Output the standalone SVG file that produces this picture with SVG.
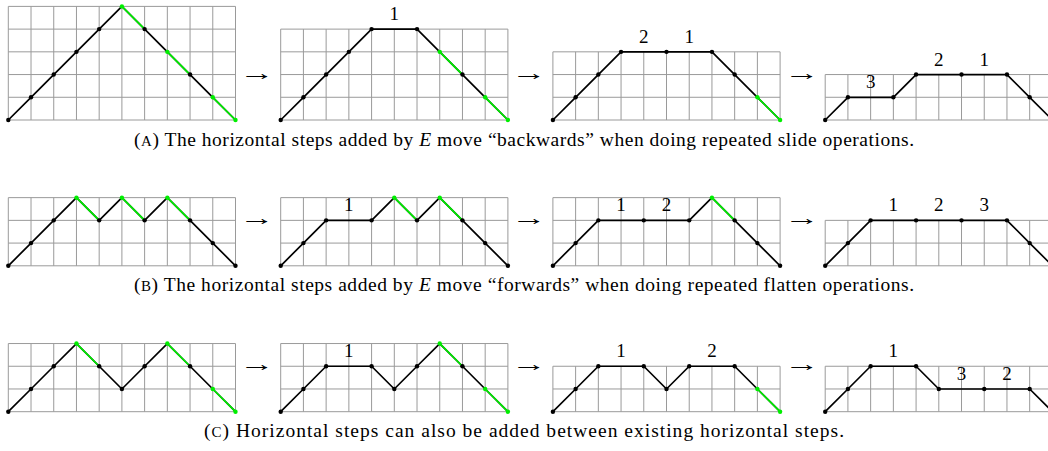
<svg xmlns="http://www.w3.org/2000/svg" xmlns:xlink="http://www.w3.org/1999/xlink" width="1048" height="451" viewBox="0 0 1048 451">
<style>
.grid{fill:none;stroke:#9a9a9a;stroke-width:1}
.pb{fill:none;stroke:#000;stroke-width:1.7;stroke-linejoin:round;stroke-linecap:round}
.pg{fill:none;stroke:#00ee00;stroke-width:1.7;stroke-linecap:round}
.db{fill:#000}
.dg{fill:#00ee00}
.lbl{font-family:"Liberation Serif","Times New Roman",serif;font-size:19px;text-anchor:middle;fill:#000}
.arr{font-family:"Liberation Serif","DejaVu Serif",serif;font-size:22px;text-anchor:middle;fill:#000}
.cap{font-family:"Liberation Serif","Times New Roman",serif;font-size:19.5px;text-anchor:middle;fill:#000}
.sc{font-size:15px}
</style>
<defs>
<path id="g5" class="grid" d="M0,0V-113.6M22.72,0V-113.6M45.44,0V-113.6M68.16,0V-113.6M90.88,0V-113.6M113.6,0V-113.6M136.32,0V-113.6M159.04,0V-113.6M181.76,0V-113.6M204.48,0V-113.6M227.2,0V-113.6M0,0H227.2M0,-22.72H227.2M0,-45.44H227.2M0,-68.16H227.2M0,-90.88H227.2M0,-113.6H227.2"/>
<path id="g4" class="grid" d="M0,0V-90.88M22.72,0V-90.88M45.44,0V-90.88M68.16,0V-90.88M90.88,0V-90.88M113.6,0V-90.88M136.32,0V-90.88M159.04,0V-90.88M181.76,0V-90.88M204.48,0V-90.88M227.2,0V-90.88M0,0H227.2M0,-22.72H227.2M0,-45.44H227.2M0,-68.16H227.2M0,-90.88H227.2"/>
<path id="g3" class="grid" d="M0,0V-68.16M22.72,0V-68.16M45.44,0V-68.16M68.16,0V-68.16M90.88,0V-68.16M113.6,0V-68.16M136.32,0V-68.16M159.04,0V-68.16M181.76,0V-68.16M204.48,0V-68.16M227.2,0V-68.16M0,0H227.2M0,-22.72H227.2M0,-45.44H227.2M0,-68.16H227.2"/>
<path id="g2" class="grid" d="M0,0V-45.44M22.72,0V-45.44M45.44,0V-45.44M68.16,0V-45.44M90.88,0V-45.44M113.6,0V-45.44M136.32,0V-45.44M159.04,0V-45.44M181.76,0V-45.44M204.48,0V-45.44M227.2,0V-45.44M0,0H227.2M0,-22.72H227.2M0,-45.44H227.2"/>
</defs>

<!-- Row A -->
<g id="a1" transform="translate(8.3,120)">
<use href="#g5"/>
<polyline class="pb" points="0,0 22.72,-22.72 45.44,-45.44 68.16,-68.16 90.88,-90.88 113.6,-113.6 136.32,-90.88 159.04,-68.16 181.76,-45.44 204.48,-22.72 227.2,0"/>
<path class="pg" d="M113.6,-113.6L136.32,-90.88M159.04,-68.16L181.76,-45.44M204.48,-22.72L227.2,0"/>
<g class="db"><circle cx="0" cy="0" r="2.2"/><circle cx="22.72" cy="-22.72" r="2.2"/><circle cx="45.44" cy="-45.44" r="2.2"/><circle cx="68.16" cy="-68.16" r="2.2"/><circle cx="90.88" cy="-90.88" r="2.2"/><circle cx="136.32" cy="-90.88" r="2.2"/><circle cx="181.76" cy="-45.44" r="2.2"/></g>
<g class="dg"><circle cx="113.6" cy="-113.6" r="2.2"/><circle cx="159.04" cy="-68.16" r="2.2"/><circle cx="204.48" cy="-22.72" r="2.2"/><circle cx="227.2" cy="0" r="2.2"/></g>
</g>
<g id="a2" transform="translate(280.7,120)">
<use href="#g4"/>
<polyline class="pb" points="0,0 22.72,-22.72 45.44,-45.44 68.16,-68.16 90.88,-90.88 136.32,-90.88 159.04,-68.16 181.76,-45.44 204.48,-22.72 227.2,0"/>
<path class="pg" d="M159.04,-68.16L181.76,-45.44M204.48,-22.72L227.2,0"/>
<g class="db"><circle cx="0" cy="0" r="2.2"/><circle cx="22.72" cy="-22.72" r="2.2"/><circle cx="45.44" cy="-45.44" r="2.2"/><circle cx="68.16" cy="-68.16" r="2.2"/><circle cx="90.88" cy="-90.88" r="2.2"/><circle cx="136.32" cy="-90.88" r="2.2"/><circle cx="181.76" cy="-45.44" r="2.2"/></g>
<g class="dg"><circle cx="159.04" cy="-68.16" r="2.2"/><circle cx="204.48" cy="-22.72" r="2.2"/><circle cx="227.2" cy="0" r="2.2"/></g>
<text class="lbl" x="113.6" y="-99.9">1</text>
</g>
<g id="a3" transform="translate(552.9,120)">
<use href="#g3"/>
<polyline class="pb" points="0,0 22.72,-22.72 45.44,-45.44 68.16,-68.16 113.6,-68.16 159.04,-68.16 181.76,-45.44 204.48,-22.72 227.2,0"/>
<path class="pg" d="M204.48,-22.72L227.2,0"/>
<g class="db"><circle cx="0" cy="0" r="2.2"/><circle cx="22.72" cy="-22.72" r="2.2"/><circle cx="45.44" cy="-45.44" r="2.2"/><circle cx="68.16" cy="-68.16" r="2.2"/><circle cx="113.6" cy="-68.16" r="2.2"/><circle cx="159.04" cy="-68.16" r="2.2"/><circle cx="181.76" cy="-45.44" r="2.2"/></g>
<g class="dg"><circle cx="204.48" cy="-22.72" r="2.2"/><circle cx="227.2" cy="0" r="2.2"/></g>
<text class="lbl" x="90.88" y="-77.2">2</text>
<text class="lbl" x="136.32" y="-77.2">1</text>
</g>
<g id="a4" transform="translate(825.2,120)">
<use href="#g2"/>
<polyline class="pb" points="0,0 22.72,-22.72 68.16,-22.72 90.88,-45.44 136.32,-45.44 181.76,-45.44 204.48,-22.72 227.2,0"/>
<g class="db"><circle cx="0" cy="0" r="2.2"/><circle cx="22.72" cy="-22.72" r="2.2"/><circle cx="68.16" cy="-22.72" r="2.2"/><circle cx="90.88" cy="-45.44" r="2.2"/><circle cx="136.32" cy="-45.44" r="2.2"/><circle cx="181.76" cy="-45.44" r="2.2"/><circle cx="204.48" cy="-22.72" r="2.2"/><circle cx="227.2" cy="0" r="2.2"/></g>
<text class="lbl" x="45.44" y="-31.7">3</text>
<text class="lbl" x="113.6" y="-54.4">2</text>
<text class="lbl" x="159.04" y="-54.4">1</text>
</g>

<!-- Row B -->
<g id="b1" transform="translate(8.3,265.8)">
<use href="#g3"/>
<polyline class="pb" points="0,0 22.72,-22.72 45.44,-45.44 68.16,-68.16 90.88,-45.44 113.6,-68.16 136.32,-45.44 159.04,-68.16 181.76,-45.44 204.48,-22.72 227.2,0"/>
<path class="pg" d="M68.16,-68.16L90.88,-45.44M113.6,-68.16L136.32,-45.44M159.04,-68.16L181.76,-45.44"/>
<g class="db"><circle cx="0" cy="0" r="2.2"/><circle cx="22.72" cy="-22.72" r="2.2"/><circle cx="45.44" cy="-45.44" r="2.2"/><circle cx="90.88" cy="-45.44" r="2.2"/><circle cx="136.32" cy="-45.44" r="2.2"/><circle cx="181.76" cy="-45.44" r="2.2"/><circle cx="204.48" cy="-22.72" r="2.2"/><circle cx="227.2" cy="0" r="2.2"/></g>
<g class="dg"><circle cx="68.16" cy="-68.16" r="2.2"/><circle cx="113.6" cy="-68.16" r="2.2"/><circle cx="159.04" cy="-68.16" r="2.2"/></g>
</g>
<g id="b2" transform="translate(280.7,265.8)">
<use href="#g3"/>
<polyline class="pb" points="0,0 22.72,-22.72 45.44,-45.44 90.88,-45.44 113.6,-68.16 136.32,-45.44 159.04,-68.16 181.76,-45.44 204.48,-22.72 227.2,0"/>
<path class="pg" d="M113.6,-68.16L136.32,-45.44M159.04,-68.16L181.76,-45.44"/>
<g class="db"><circle cx="0" cy="0" r="2.2"/><circle cx="22.72" cy="-22.72" r="2.2"/><circle cx="45.44" cy="-45.44" r="2.2"/><circle cx="90.88" cy="-45.44" r="2.2"/><circle cx="136.32" cy="-45.44" r="2.2"/><circle cx="181.76" cy="-45.44" r="2.2"/><circle cx="204.48" cy="-22.72" r="2.2"/><circle cx="227.2" cy="0" r="2.2"/></g>
<g class="dg"><circle cx="113.6" cy="-68.16" r="2.2"/><circle cx="159.04" cy="-68.16" r="2.2"/></g>
<text class="lbl" x="68.16" y="-54.4">1</text>
</g>
<g id="b3" transform="translate(552.9,265.8)">
<use href="#g3"/>
<polyline class="pb" points="0,0 22.72,-22.72 45.44,-45.44 90.88,-45.44 136.32,-45.44 159.04,-68.16 181.76,-45.44 204.48,-22.72 227.2,0"/>
<path class="pg" d="M159.04,-68.16L181.76,-45.44"/>
<g class="db"><circle cx="0" cy="0" r="2.2"/><circle cx="22.72" cy="-22.72" r="2.2"/><circle cx="45.44" cy="-45.44" r="2.2"/><circle cx="90.88" cy="-45.44" r="2.2"/><circle cx="136.32" cy="-45.44" r="2.2"/><circle cx="181.76" cy="-45.44" r="2.2"/><circle cx="204.48" cy="-22.72" r="2.2"/><circle cx="227.2" cy="0" r="2.2"/></g>
<g class="dg"><circle cx="159.04" cy="-68.16" r="2.2"/></g>
<text class="lbl" x="68.16" y="-54.4">1</text>
<text class="lbl" x="113.6" y="-54.4">2</text>
</g>
<g id="b4" transform="translate(825.2,265.8)">
<use href="#g2"/>
<polyline class="pb" points="0,0 22.72,-22.72 45.44,-45.44 90.88,-45.44 136.32,-45.44 181.76,-45.44 204.48,-22.72 227.2,0"/>
<g class="db"><circle cx="0" cy="0" r="2.2"/><circle cx="22.72" cy="-22.72" r="2.2"/><circle cx="45.44" cy="-45.44" r="2.2"/><circle cx="90.88" cy="-45.44" r="2.2"/><circle cx="136.32" cy="-45.44" r="2.2"/><circle cx="181.76" cy="-45.44" r="2.2"/><circle cx="204.48" cy="-22.72" r="2.2"/><circle cx="227.2" cy="0" r="2.2"/></g>
<text class="lbl" x="68.16" y="-54.4">1</text>
<text class="lbl" x="113.6" y="-54.4">2</text>
<text class="lbl" x="159.04" y="-54.4">3</text>
</g>

<!-- Row C -->
<g id="c1" transform="translate(8.3,411.7)">
<use href="#g3"/>
<polyline class="pb" points="0,0 22.72,-22.72 45.44,-45.44 68.16,-68.16 90.88,-45.44 113.6,-22.72 136.32,-45.44 159.04,-68.16 181.76,-45.44 204.48,-22.72 227.2,0"/>
<path class="pg" d="M68.16,-68.16L90.88,-45.44M159.04,-68.16L181.76,-45.44M204.48,-22.72L227.2,0"/>
<g class="db"><circle cx="0" cy="0" r="2.2"/><circle cx="22.72" cy="-22.72" r="2.2"/><circle cx="45.44" cy="-45.44" r="2.2"/><circle cx="90.88" cy="-45.44" r="2.2"/><circle cx="113.6" cy="-22.72" r="2.2"/><circle cx="136.32" cy="-45.44" r="2.2"/><circle cx="181.76" cy="-45.44" r="2.2"/></g>
<g class="dg"><circle cx="68.16" cy="-68.16" r="2.2"/><circle cx="159.04" cy="-68.16" r="2.2"/><circle cx="204.48" cy="-22.72" r="2.2"/><circle cx="227.2" cy="0" r="2.2"/></g>
</g>
<g id="c2" transform="translate(280.7,411.7)">
<use href="#g3"/>
<polyline class="pb" points="0,0 22.72,-22.72 45.44,-45.44 90.88,-45.44 113.6,-22.72 136.32,-45.44 159.04,-68.16 181.76,-45.44 204.48,-22.72 227.2,0"/>
<path class="pg" d="M159.04,-68.16L181.76,-45.44M204.48,-22.72L227.2,0"/>
<g class="db"><circle cx="0" cy="0" r="2.2"/><circle cx="22.72" cy="-22.72" r="2.2"/><circle cx="45.44" cy="-45.44" r="2.2"/><circle cx="90.88" cy="-45.44" r="2.2"/><circle cx="113.6" cy="-22.72" r="2.2"/><circle cx="136.32" cy="-45.44" r="2.2"/><circle cx="181.76" cy="-45.44" r="2.2"/></g>
<g class="dg"><circle cx="159.04" cy="-68.16" r="2.2"/><circle cx="204.48" cy="-22.72" r="2.2"/><circle cx="227.2" cy="0" r="2.2"/></g>
<text class="lbl" x="68.16" y="-54.4">1</text>
</g>
<g id="c3" transform="translate(552.9,411.7)">
<use href="#g2"/>
<polyline class="pb" points="0,0 22.72,-22.72 45.44,-45.44 90.88,-45.44 113.6,-22.72 136.32,-45.44 181.76,-45.44 204.48,-22.72 227.2,0"/>
<path class="pg" d="M204.48,-22.72L227.2,0"/>
<g class="db"><circle cx="0" cy="0" r="2.2"/><circle cx="22.72" cy="-22.72" r="2.2"/><circle cx="45.44" cy="-45.44" r="2.2"/><circle cx="90.88" cy="-45.44" r="2.2"/><circle cx="113.6" cy="-22.72" r="2.2"/><circle cx="136.32" cy="-45.44" r="2.2"/><circle cx="181.76" cy="-45.44" r="2.2"/></g>
<g class="dg"><circle cx="204.48" cy="-22.72" r="2.2"/><circle cx="227.2" cy="0" r="2.2"/></g>
<text class="lbl" x="68.16" y="-54.4">1</text>
<text class="lbl" x="159.04" y="-54.4">2</text>
</g>
<g id="c4" transform="translate(825.2,411.7)">
<use href="#g2"/>
<polyline class="pb" points="0,0 22.72,-22.72 45.44,-45.44 90.88,-45.44 113.6,-22.72 159.04,-22.72 204.48,-22.72 227.2,0"/>
<g class="db"><circle cx="0" cy="0" r="2.2"/><circle cx="22.72" cy="-22.72" r="2.2"/><circle cx="45.44" cy="-45.44" r="2.2"/><circle cx="90.88" cy="-45.44" r="2.2"/><circle cx="113.6" cy="-22.72" r="2.2"/><circle cx="159.04" cy="-22.72" r="2.2"/><circle cx="204.48" cy="-22.72" r="2.2"/><circle cx="227.2" cy="0" r="2.2"/></g>
<text class="lbl" x="68.16" y="-54.4">1</text>
<text class="lbl" x="136.32" y="-31.7">3</text>
<text class="lbl" x="181.76" y="-31.7">2</text>
</g>

<g id="connectors">
<text class="arr" transform="translate(257,79.5) scale(1.6,1)">→</text>
<text class="arr" transform="translate(529,79.5) scale(1.6,1)">→</text>
<text class="arr" transform="translate(802,79.5) scale(1.6,1)">→</text>
<text class="arr" transform="translate(257,224.8) scale(1.6,1)">→</text>
<text class="arr" transform="translate(529,224.8) scale(1.6,1)">→</text>
<text class="arr" transform="translate(802,224.8) scale(1.6,1)">→</text>
<text class="arr" transform="translate(257,370.5) scale(1.6,1)">→</text>
<text class="arr" transform="translate(529,370.5) scale(1.6,1)">→</text>
<text class="arr" transform="translate(802,370.5) scale(1.6,1)">→</text>
</g>

<g id="captions">
<text class="cap" x="524" y="146" textLength="780" lengthAdjust="spacing">(<tspan class="sc">A</tspan>) The horizontal steps added by <tspan font-style="italic">E</tspan> move “backwards” when doing repeated slide operations.</text>
<text class="cap" x="524" y="291" textLength="780" lengthAdjust="spacing">(<tspan class="sc">B</tspan>) The horizontal steps added by <tspan font-style="italic">E</tspan> move “forwards” when doing repeated flatten operations.</text>
<text class="cap" x="524" y="437" textLength="640" lengthAdjust="spacing">(<tspan class="sc">C</tspan>) Horizontal steps can also be added between existing horizontal steps.</text>
</g>
</svg>
